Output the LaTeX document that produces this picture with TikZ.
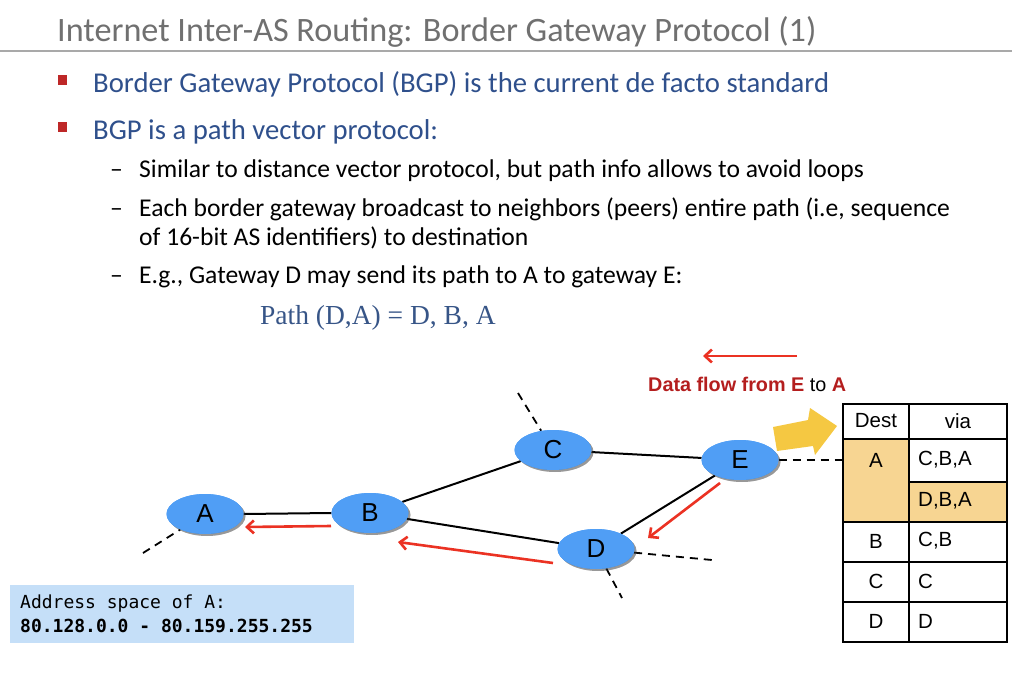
\documentclass[tikz,border=0pt]{standalone}
\usepackage{fontspec}
\setmainfont{Carlito}
\newfontfamily\arialf{Liberation Sans}
\newfontfamily\serf{Liberation Serif}
\newfontfamily\monof{DejaVu Sans Mono}
\usetikzlibrary{shapes.geometric,shadows,arrows.meta}
\definecolor{titlegray}{RGB}{112,112,112}
\definecolor{bulletblue}{RGB}{47,80,140}
\definecolor{bulletred}{RGB}{190,40,40}
\definecolor{pathblue}{RGB}{55,85,135}
\definecolor{nodeblue}{RGB}{80,158,245}
\definecolor{arrred}{RGB}{235,50,35}
\definecolor{darkred}{RGB}{180,30,30}
\definecolor{cellorange}{RGB}{247,213,146}
\definecolor{yelarrow}{RGB}{245,200,66}
\definecolor{addrblue}{RGB}{197,223,248}
\tikzset{
  asnode/.style={ellipse, fill=nodeblue, minimum width=77pt, minimum height=40pt, inner sep=0pt,
     font=\arialf\fontsize{26}{26}\selectfont, drop shadow={opacity=0.35, shadow xshift=2pt, shadow yshift=-2pt, fill=black!70}},
  link/.style={line width=2pt, black},
  dashlink/.style={line width=1.8pt, black, dash pattern=on 8pt off 6pt},
  redarrow/.style={line width=2.6pt, arrred, -{Straight Barb[length=7pt,width=13pt]}},
  bul/.style={anchor=base west, text=bulletblue, font=\fontsize{28.7}{28.7}\selectfont, inner sep=0pt},
  subbul/.style={anchor=base west, text=black, font=\fontsize{25.6}{29}\selectfont, inner sep=0pt, align=left},
  cell/.style={font=\arialf\fontsize{20.5}{20.5}\selectfont, inner sep=0pt}
}
\begin{document}
\begin{tikzpicture}[x=1pt,y=-1pt]
\useasboundingbox (0,0) rectangle (1012,674);
% title
\node[anchor=base west, inner sep=0pt, text=titlegray, font=\fontsize{34.2}{34}\selectfont] (title) at (57,42) {Internet Inter-AS Routing: Border Gateway Protocol (1)};
\draw[titlegray!60, line width=2pt] (0,51) -- (1012,51);
% bullets
\fill[bulletred] (58,75) rectangle (67,85);
\node[bul] (b1) at (93,93) {Border Gateway Protocol (BGP) is the current de facto standard};
\fill[bulletred] (58,122) rectangle (67,132);
\node[bul] (b2) at (93,140) {BGP is a path vector protocol:};
\node[subbul] (d1) at (110,178) {–};
\node[subbul] (s1) at (139,178) {Similar to distance vector protocol, but path info allows to avoid loops};
\node[subbul] (d2) at (110,216) {–};
\node[subbul] (s2) at (139,216) {Each border gateway broadcast to neighbors (peers) entire path (i.e, sequence};
\node[subbul] (s2b) at (139,245) {of 16-bit AS identifiers) to destination};
\node[subbul] (d3) at (110,283) {–};
\node[subbul] (s3) at (139,283) {E.g., Gateway D may send its path to A to gateway E:};
\node[anchor=base west, inner sep=0pt, text=pathblue, font=\serf\fontsize{27.5}{27.5}\selectfont] (path) at (260,324) {Path (D,A) = D, B, A};
% network
\coordinate (Adash) at (143,553);
\coordinate (Cdash) at (518,393);
\coordinate (Ddash1) at (622,598);
\coordinate (Ddash2) at (712,560);
\coordinate (tabE) at (843,460);
\node[asnode] (A) at (205,514) {A};
\node[asnode] (B) at (370,513) {B};
\node[asnode] (C) at (553,450) {C};
\node[asnode] (D) at (596,549) {D};
\node[asnode] (E) at (740,460) {E};
\draw[dashlink] (Adash) -- (A);
\draw[dashlink] (Cdash) -- (C);
\draw[dashlink] (D) -- (Ddash1);
\draw[dashlink] (D) -- (Ddash2);
\draw[dashlink] (E) -- (tabE);
\draw[link] (A.east) -- (B.west);
\draw[link] (B) -- (C);
\draw[link] (B) -- (D);
\draw[link] (C) -- (E);
\draw[link] (E) -- (D);
% redraw nodes over links
\node[asnode] at (A) {A};
\node[asnode] at (B) {B};
\node[asnode] at (C) {C};
\node[asnode] at (D) {D};
\node[asnode] at (E) {E};
% red arrows
\coordinate (ba1) at (331,526); \coordinate (ba2) at (245,527);
\draw[redarrow] (ba1) -- (ba2);
\coordinate (db1) at (553,563); \coordinate (db2) at (398,542);
\draw[redarrow] (db1) -- (db2);
\coordinate (ed1) at (720,483); \coordinate (ed2) at (648,538);
\draw[redarrow] (ed1) -- (ed2);
\coordinate (df1) at (797,356); \coordinate (df2) at (703,356);
\draw[redarrow] (df1) -- (df2);
\node[anchor=base west, inner sep=0pt, font=\arialf\bfseries\fontsize{19.8}{19.8}\selectfont] (dflab) at (648,391) {\textcolor{darkred}{Data flow from E} {\mdseries to} \textcolor{darkred}{A}};
% table
\fill[cellorange] (843,439) rectangle (909,522);
\fill[cellorange] (909,482) rectangle (1007,522);
\draw[line width=1.2pt] (843,404) rectangle (1007,642);
\draw[line width=1.2pt] (909,404) -- (909,642);
\draw[line width=1.2pt] (843,439) -- (1007,439);
\draw[line width=1.2pt] (909,482) -- (1007,482);
\draw[line width=1.2pt] (843,522) -- (1007,522);
\draw[line width=1.2pt] (843,562) -- (1007,562);
\draw[line width=1.2pt] (843,602) -- (1007,602);
\node[cell] (hd) at (876,421) {Dest};
\node[cell] (hv) at (958,421) {via};
\node[cell] (tA) at (876,460) {A};
\node[cell, anchor=west] (tA1) at (918,460) {C,B,A};
\node[cell, anchor=west] (tA2) at (918,501) {D,B,A};
\node[cell] (tB) at (876,541) {B};
\node[cell, anchor=west] (tB1) at (918,541) {C,B};
\node[cell] (tC) at (876,581) {C};
\node[cell, anchor=west] (tC1) at (918,581) {C};
\node[cell] (tD) at (876,621) {D};
\node[cell, anchor=west] (tD1) at (918,621) {D};
% yellow arrow
\fill[yelarrow] (773,427) -- (808,420) -- (810,408) -- (837,426) -- (815,455) -- (813,446) -- (777,451) -- cycle;
% address box
\fill[addrblue] (10,585) rectangle (354,643);
\node[anchor=base west, inner sep=0pt, font=\monof\fontsize{18}{18}\selectfont] (addr1) at (20,608) {Address space of A:};
\node[anchor=base west, inner sep=0pt, font=\monof\bfseries\fontsize{18}{18}\selectfont] (addr2) at (20,632) {80.128.0.0 - 80.159.255.255};
\end{tikzpicture}
\end{document}
